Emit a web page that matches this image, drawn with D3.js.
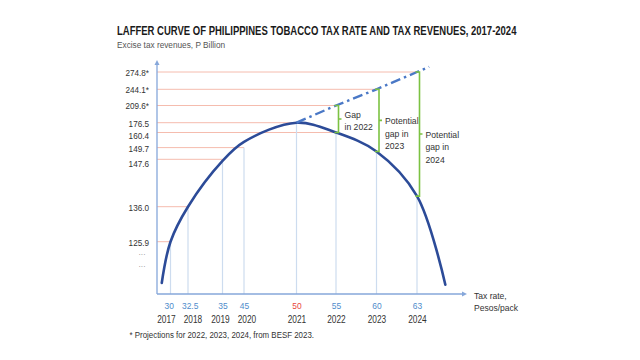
<!DOCTYPE html>
<html>
<head>
<meta charset="utf-8">
<script src="https://cdn.jsdelivr.net/npm/d3@7"></script>
<style>
  html, body { margin: 0; padding: 0; background: #ffffff; }
  svg { display: block; }
  text { font-family: "Liberation Sans", Arial, sans-serif; }
</style>
</head>
<body>
<svg id="chart" width="640" height="360"></svg>
<script>
// ---------------- DATA ----------------
const years      = ["2017", "2018", "2019", "2020", "2021", "2022", "2023", "2024"];
const taxRates   = [30, 32.5, 35, 45, 50, 55, 60, 63];                          // Pesos/pack
const revenues   = [125.9, 136.0, 147.6, 149.7, 176.5, 160.4, 149.0, 138.6];     // P Billion (2023, 2024)
const curveRevenues = [125.9, 136.0, 147.2, 153.8, 176.5, 160.4, 149.0, 138.6];  // height of the drawn curve at each rate
const labeledYears = ["2017", "2018", "2019", "2020", "2021", "2022"];           // points with a revenue label
const projYears  = ["2022", "2023", "2024"];
const projValues = [209.6, 244.1, 274.8];                                        // BESF 2023 projections
const peakYear   = "2021";
const curveStartRate = 28.75, curveStartRevenue = 114.0;                         // curve tails
const curveEndRate   = 65.1,  curveEndRevenue   = 113.5;
const yTickValues = [125.9, 136.0, 147.6, 149.7, 160.4, 176.5, 209.6, 244.1, 274.8];
const yTickLabels = ["125.9", "136.0", "147.6", "149.7", "160.4", "176.5", "209.6*", "244.1*", "274.8*"];
const gapLabels  = [["Gap", "in 2022"], ["Potential", "gap in", "2023"], ["Potential", "gap in", "2024"]];
const titleText    = "LAFFER CURVE OF PHILIPPINES TOBACCO TAX RATE AND TAX REVENUES, 2017-2024";
const subtitleText = "Excise tax revenues, P Billion";
const xTitle       = ["Tax rate,", "Pesos/pack"];
const footnote     = "* Projections for 2022, 2023, 2024, from BESF 2023.";

// ---------------- LAYOUT ----------------
const axisX = 157, axisY = 294, axisTop = 60, axisRight = 467;
// The reference uses non-uniform (piecewise) axes
const xRangePx = [170.5, 188, 222.5, 244, 296.5, 336, 376.5, 417];
const yRangePx = [241.7, 206.7, 159.3, 147.6, 132.5, 122.7, 105.5, 89.3, 72];

const C = {
  axis: "#86a7da", curve: "#2c4b98", dash: "#4a78c6", guideV: "#cddcef",
  guideH: "#f5bcae", bracket: "#7cc242", text: "#333333", blue: "#4f8ccb", red: "#e8463d"
};

const svg = d3.select("#chart");
const x = d3.scaleLinear().domain(taxRates).range(xRangePx);
const y = d3.scaleLinear().domain(yTickValues).range(yRangePx);

const pts = years.map((yr, i) => ({ year: yr, rate: taxRates[i], rev: revenues[i], cv: curveRevenues[i] }));
const byYear = Object.fromEntries(pts.map(p => [p.year, p]));

// condense text horizontally (narrow face look)
function narrow(sel, f) {
  sel.each(function () {
    const w = this.getComputedTextLength();
    this.__w = w * f;
    d3.select(this).attr("textLength", w * f).attr("lengthAdjust", "spacingAndGlyphs");
  });
}
// push overlapping labels in a row apart
function spread(sel, gap) {
  const items = [];
  sel.each(function () {
    const tx = +(this.parentNode.getAttribute("transform") || "translate(0,0)").match(/translate\(([-\d.]+)/)[1];
    items.push({ node: this, c: tx, w: this.__w, shift: 0 });
  });
  for (let i = 1; i < items.length; i++) {
    const p = items[i - 1], q = items[i];
    const ov = (p.c + p.shift + p.w / 2 + gap) - (q.c + q.shift - q.w / 2);
    if (ov > 0) { p.shift -= ov / 2; q.shift += ov / 2; }
  }
  items.forEach(it => d3.select(it.node).attr("x", it.shift));
}

// Title & subtitle
const tg = svg.append("g");
const title = tg.append("text").attr("font-size", 13).attr("font-weight", "bold")
  .attr("fill", "#1a1a1a").text(titleText);
const tw = title.node().getComputedTextLength();
tg.attr("transform", `translate(117,35.3) scale(${400 / tw},1)`);

svg.append("text").attr("x", 117).attr("y", 48.3)
  .attr("font-size", 9.6).attr("fill", "#555").text(subtitleText)
  .call(narrow, 0.86);

// Horizontal guides (salmon) for labeled points and projections
const hGuides = labeledYears.map(yr => ({ x2: x(byYear[yr].rate), y: y(byYear[yr].rev) }))
  .concat(projYears.map((yr, i) => ({ x2: x(byYear[yr].rate), y: y(projValues[i]) })));
svg.append("g").selectAll("line").data(hGuides).join("line")
  .attr("x1", axisX).attr("x2", d => d.x2)
  .attr("y1", d => d.y).attr("y2", d => d.y)
  .attr("stroke", C.guideH).attr("stroke-width", 1);

// Vertical guides (light blue) down to axis
svg.append("g").selectAll("line").data(pts).join("line")
  .attr("x1", d => x(d.rate)).attr("x2", d => x(d.rate))
  .attr("y1", d => Math.max(y(d.rev), y(d.cv))).attr("y2", axisY)
  .attr("stroke", C.guideV).attr("stroke-width", 1.2);

// Axes lines with arrows
const ax = svg.append("g");
ax.append("line").attr("x1", axisX).attr("x2", axisX).attr("y1", axisY).attr("y2", axisTop + 3)
  .attr("stroke", C.axis).attr("stroke-width", 1.3);
ax.append("line").attr("x1", axisX).attr("x2", axisRight - 3).attr("y1", axisY).attr("y2", axisY)
  .attr("stroke", C.axis).attr("stroke-width", 1.3);
ax.append("path").attr("d", `M${axisX - 2.5},${axisTop + 5} L${axisX},${axisTop} L${axisX + 2.5},${axisTop + 5} Z`)
  .attr("fill", C.axis);
ax.append("path").attr("d", `M${axisRight - 5},${axisY - 2.5} L${axisRight},${axisY} L${axisRight - 5},${axisY + 2.5} Z`)
  .attr("fill", C.axis);

// Y axis labels via d3 axis
const yAxis = d3.axisLeft(y).tickValues(yTickValues)
  .tickFormat((d, i) => yTickLabels[i]).tickSize(0).tickPadding(8);
const yg = svg.append("g").attr("transform", `translate(${axisX},0)`).call(yAxis);
yg.select(".domain").remove();
yg.selectAll("text").attr("font-size", 9.6).attr("fill", C.text)
  .attr("font-family", "Liberation Sans, Arial, sans-serif")
  .attr("dy", d => d === 147.6 ? "0.8em" : d === 160.4 ? "0.6em" : "0.36em")
  .call(narrow, 0.85);
// ellipsis marks below lowest tick
svg.append("g").selectAll("text").data([0, 1]).join("text")
  .attr("x", 142).attr("y", (d, i) => 257 + i * 12)
  .attr("text-anchor", "middle").attr("font-size", 7).attr("fill", "#777")
  .text("···");

// X axis labels: tax rate row and year row
const xAxis = d3.axisBottom(x).tickValues(taxRates).tickSize(0).tickPadding(8.5)
  .tickFormat(d => String(d));
const xg = svg.append("g").attr("transform", `translate(0,${axisY})`).call(xAxis);
xg.select(".domain").remove();
xg.selectAll("text").attr("font-size", 9.8)
  .attr("font-family", "Liberation Sans, Arial, sans-serif")
  .attr("fill", (d, i) => years[i] === peakYear ? C.red : C.blue)
  .call(narrow, 0.86).call(spread, 8);

const yearAxis = d3.axisBottom(x).tickValues(taxRates).tickSize(0).tickPadding(21)
  .tickFormat((d, i) => years[i]);
const yrg = svg.append("g").attr("transform", `translate(0,${axisY})`).call(yearAxis);
yrg.select(".domain").remove();
yrg.selectAll("text").attr("font-size", 10.8).attr("fill", C.text)
  .attr("font-family", "Liberation Sans, Arial, sans-serif")
  .call(narrow, 0.77).call(spread, 8);

// X axis title
svg.append("g").selectAll("text").data(xTitle).join("text")
  .attr("x", 474).attr("y", (d, i) => 298.5 + i * 12.3)
  .attr("font-size", 9.8).attr("fill", C.text).text(d => d)
  .call(narrow, 0.87);

// Laffer curve
const curveData = [{ rate: curveStartRate, cv: curveStartRevenue }, ...pts,
  { rate: curveEndRate, cv: curveEndRevenue }];
const line = d3.line().x(d => x(d.rate)).y(d => y(d.cv)).curve(d3.curveCatmullRom.alpha(0.5));
svg.append("path").datum(curveData).attr("d", line)
  .attr("fill", "none").attr("stroke", C.curve).attr("stroke-width", 2.6)
  .attr("stroke-linecap", "round");

// Projection dash-dot line
const peak = byYear[peakYear];
const proj = [{ rate: peak.rate, v: peak.cv }]
  .concat(projYears.map((yr, i) => ({ rate: byYear[yr].rate, v: projValues[i] })));
const projPx = proj.map(d => [x(d.rate), y(d.v)]);
const a = projPx[projPx.length - 2], b = projPx[projPx.length - 1];
projPx.push([b[0] + (b[0] - a[0]) * 0.3, b[1] + (b[1] - a[1]) * 0.3]);
svg.append("path").attr("d", d3.line()(projPx))
  .attr("fill", "none").attr("stroke", C.dash).attr("stroke-width", 2.4)
  .attr("stroke-dasharray", "10,4,2.5,4");

// Gap brackets
const bg = svg.append("g");
projYears.forEach((yr, i) => {
  const bx = x(byYear[yr].rate) + 2.5;
  const top = y(projValues[i]), bot = y(byYear[yr].cv);
  const mid = (top + bot) / 2;
  bg.append("path")
    .attr("d", `M${bx - 4},${top} H${bx} V${bot} H${bx - 4} M${bx},${mid} H${bx + 3}`)
    .attr("fill", "none").attr("stroke", C.bracket).attr("stroke-width", 1.6);
  const lines = gapLabels[i];
  const first = mid - 5 + (lines.length - 2) * 5;
  bg.append("g").selectAll("text").data(lines).join("text")
    .attr("x", bx + 6).attr("y", (d, j) => first + j * 12.6 + 3.6)
    .attr("font-size", 9.8).attr("fill", C.text).text(d => d)
    .call(narrow, 0.88);
});

// Footnote
svg.append("text").attr("x", 129.5).attr("y", 337.5)
  .attr("font-size", 9.2).attr("fill", C.text).text(footnote)
  .call(narrow, 0.86);
</script>
</body>
</html>
